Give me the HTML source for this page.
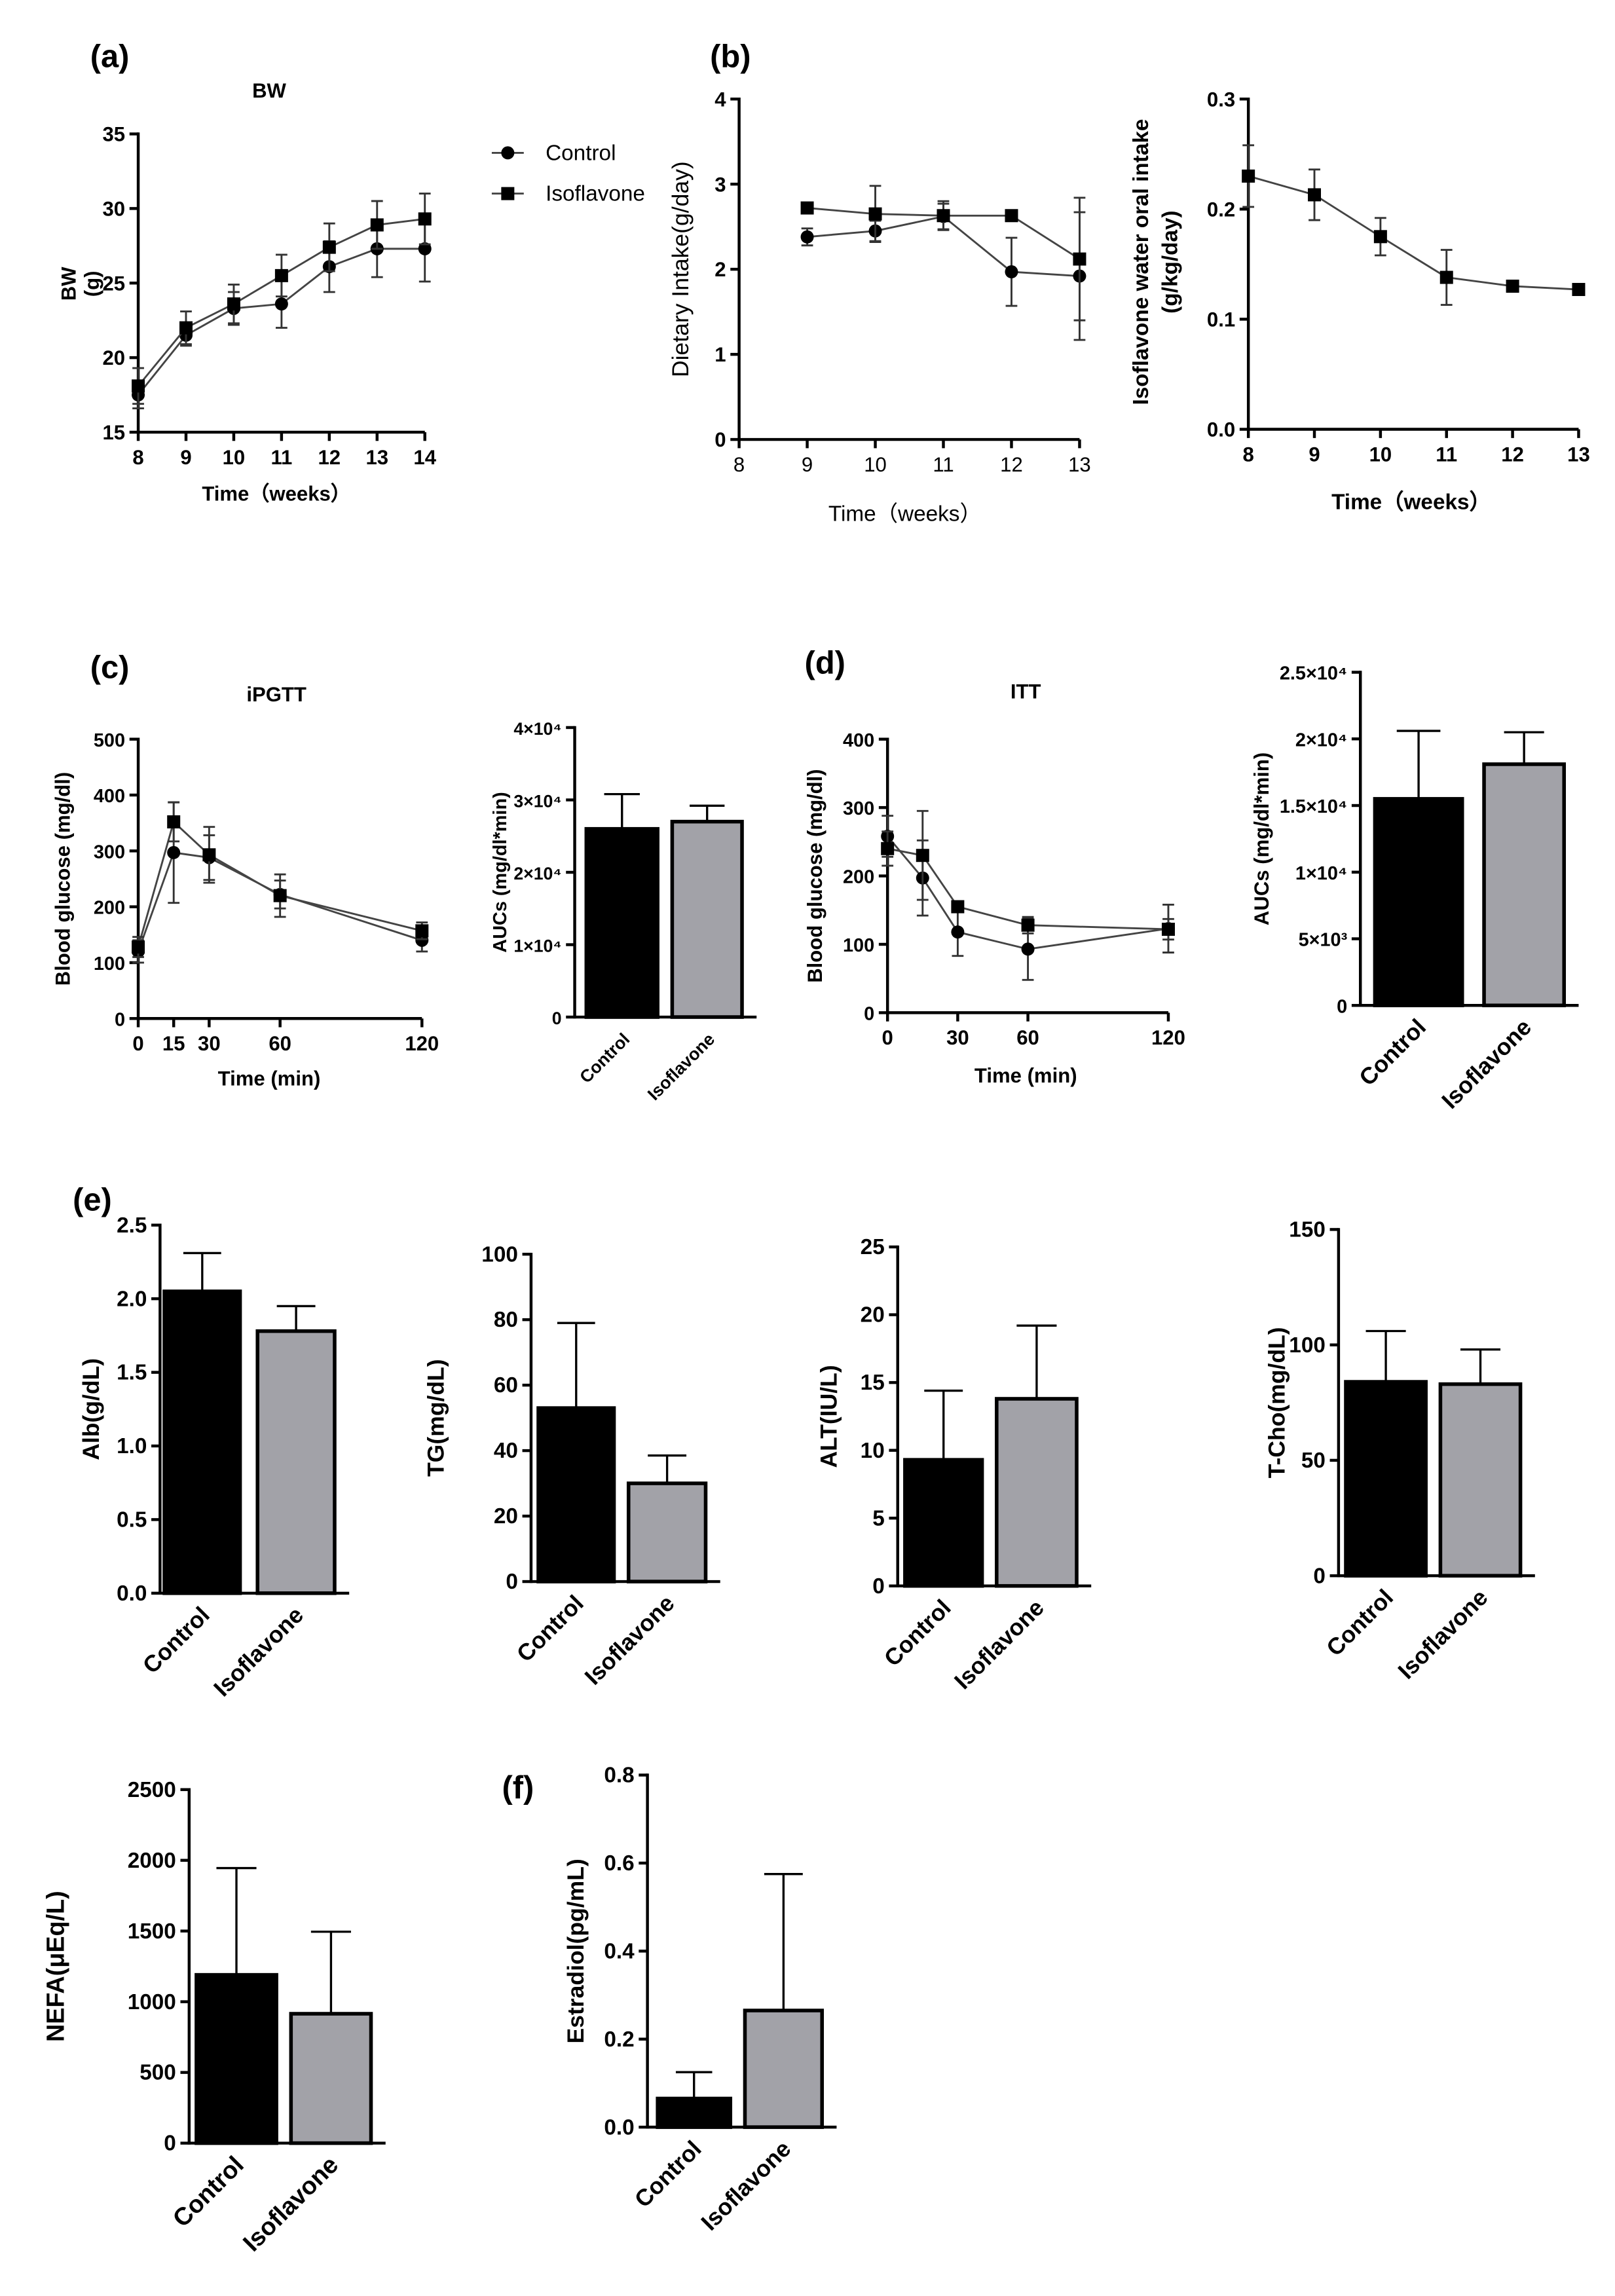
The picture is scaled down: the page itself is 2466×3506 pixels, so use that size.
<!DOCTYPE html>
<html><head><meta charset="utf-8"><style>
html,body{margin:0;padding:0;background:#fff}
svg{display:block}
text{font-family:"Liberation Sans",Arial,sans-serif}
</style></head><body>
<svg id="s" width="2466" height="3506" viewBox="0 0 1110 1578" xmlns="http://www.w3.org/2000/svg">
<rect width="1110" height="1578" fill="#fff"/>
<text x="62" y="46" font-size="22" font-weight="bold">(a)</text>
<text x="488" y="46" font-size="22" font-weight="bold">(b)</text>
<text x="62" y="466" font-size="22" font-weight="bold">(c)</text>
<text x="553" y="463" font-size="22" font-weight="bold">(d)</text>
<text x="50" y="832" font-size="22" font-weight="bold">(e)</text>
<text x="345" y="1236" font-size="22" font-weight="bold">(f)</text>
<text x="185" y="67" font-size="14" font-weight="bold" text-anchor="middle">BW</text>
<text x="190" y="482" font-size="14" font-weight="bold" text-anchor="middle">iPGTT</text>
<text x="705" y="480" font-size="14" font-weight="bold" text-anchor="middle">ITT</text>
<g id="g"></g>
</svg>
<script>
var G=document.getElementById('g'),NS='http://www.w3.org/2000/svg';
function el(t,a,txt){var e=document.createElementNS(NS,t);for(var k in a)e.setAttribute(k,a[k]);if(txt!==undefined)e.textContent=txt;G.appendChild(e);return e;}
function line(x1,y1,x2,y2,c,w){el('line',{x1:x1,y1:y1,x2:x2,y2:y2,stroke:c||'#000','stroke-width':w||2});}
function txt(x,y,s,o){o=o||{};var a={x:x,y:y,'font-size':o.fs||13,'text-anchor':o.a||'middle'};if(o.b!==false)a['font-weight']='bold';if(o.r!==undefined)a.transform='rotate('+o.r+' '+x+' '+y+')';el('text',a,s);}
function yaxis(ax,top,bot,vmax,vmin,ticks,labels,fs){line(ax,top-1,ax,bot+1);ticks.forEach(function(v,i){var y=bot-(v-vmin)/(vmax-vmin)*(bot-top);line(ax-6,y,ax,y);txt(ax-9,y+5,labels?labels[i]:String(v),{a:'end',fs:fs||13});});}
function bar(o){var Y=function(v){return o.bot-v/o.max*(o.bot-o.top)};
 yaxis(o.ax,o.top,o.bot,o.max,0,o.ticks,o.labels,o.fs);
 var xr=o.bars[1][1]+10;line(o.ax,o.bot,xr,o.bot);
 o.bars.forEach(function(b,i){var cx=(b[0]+b[1])/2;line(cx,Y(b[2]),cx,Y(b[3]),'#000',1.5);line(cx-(b[1]-b[0])/4,Y(b[3]),cx+(b[1]-b[0])/4,Y(b[3]),'#000',1.5);
  el('rect',{x:b[0],y:Y(b[2]),width:b[1]-b[0],height:o.bot-Y(b[2]),fill:i?'#a2a2a8':'#000',stroke:'#000','stroke-width':2.5});
  txt(cx+6,o.bot+16,i?'Isoflavone':'Control',{a:'end',fs:o.xfs||14,r:-45});});
 txt(o.ylx,(o.top+o.bot)/2,o.yl,{r:-90,fs:o.yfs||15});}
function lplot(o){var X=function(v){return o.x0+(v-o.xmin)/(o.xmax-o.xmin)*(o.x1-o.x0)},Y=function(v){return o.bot-(v-o.ymin)/(o.ymax-o.ymin)*(o.bot-o.top)};
 yaxis(o.x0,o.top,o.bot,o.ymax,o.ymin,o.yt,o.yl,o.fs);line(o.x0,o.bot,o.x1,o.bot);
 o.xt.forEach(function(v){line(X(v),o.bot,X(v),o.bot+6);txt(X(v),o.bot+22,String(v),{fs:o.fs||14,b:o.xb!==false});});
 o.series.forEach(function(s,si){var p=s.d.map(function(d){return X(d[0])+','+Y(d[1])}).join(' ');
  el('polyline',{points:p,fill:'none',stroke:'#444','stroke-width':1.3});
  s.d.forEach(function(d){if(d[2]){var x=X(d[0]);line(x,Y(d[1]-d[2]),x,Y(d[1]+d[2]),'#333',1.3);line(x-4,Y(d[1]+d[2]),x+4,Y(d[1]+d[2]),'#333',1.3);line(x-4,Y(d[1]-d[2]),x+4,Y(d[1]-d[2]),'#333',1.3);}
   if(s.m=='c')el('circle',{cx:X(d[0]),cy:Y(d[1]),r:4.5,fill:'#000'});else el('rect',{x:X(d[0])-4.5,y:Y(d[1])-4.5,width:9,height:9,fill:'#000'});});});}
// (a) BW
lplot({x0:95,x1:292,xmin:8,xmax:14,top:92,bot:297,ymin:15,ymax:35,yt:[15,20,25,30,35],xt:[8,9,10,11,12,13,14],fs:14,
 series:[{m:'c',d:[[8,17.5,.9],[9,21.5,.7],[10,23.3,1.1],[11,23.6,1.6],[12,26.1,1.7],[13,27.3,1.9],[14,27.3,2.2]]},
 {m:'s',d:[[8,18.1,1.2],[9,22,1.1],[10,23.6,1.3],[11,25.5,1.4],[12,27.4,1.6],[13,28.9,1.6],[14,29.3,1.7]]}]});
txt(190,344,'Time（weeks）',{fs:14});
txt(52,195,'BW',{r:-90,fs:14});txt(68,195,'(g)',{r:-90,fs:14});
line(338,105,360,105,'#444',1.3);el('circle',{cx:349,cy:105,r:4.5,fill:'#000'});txt(375,110,'Control',{a:'start',fs:15,b:false});
line(338,133,360,133,'#444',1.3);el('rect',{x:344.5,y:128.5,width:9,height:9,fill:'#000'});txt(375,138,'Isoflavone',{a:'start',fs:15,b:false});
// (b) dietary
lplot({x0:508,x1:742,xmin:8,xmax:13,top:68,bot:302,ymin:0,ymax:4,yt:[0,1,2,3,4],xt:[8,9,10,11,12,13],fs:14,xb:false,
 series:[{m:'c',d:[[9,2.38,.1],[10,2.45,.12],[11,2.62,.15],[12,1.97,.4],[13,1.92,.75]]},
 {m:'s',d:[[9,2.72,.03],[10,2.65,.33],[11,2.63,.17],[12,2.63,.03],[13,2.12,.72]]}]});
txt(622,358,'Time（weeks）',{fs:15,b:false});
txt(473,185,'Dietary Intake(g/day)',{r:-90,fs:16,b:false});
// (b) iso water
lplot({x0:858,x1:1085,xmin:8,xmax:13,top:68,bot:295,ymin:0,ymax:0.3,yt:[0,.1,.2,.3],yl:['0.0','0.1','0.2','0.3'],xt:[8,9,10,11,12,13],fs:14,
 series:[{m:'s',d:[[8,.23,.028],[9,.213,.023],[10,.175,.017],[11,.138,.025],[12,.13,.005],[13,.127,.003]]}]});
txt(970,350,'Time（weeks）',{fs:15});
txt(789,180,'Isoflavone water oral intake',{r:-90,fs:15});txt(809,180,'(g/kg/day)',{r:-90,fs:15});
// (c) iPGTT
lplot({x0:95,x1:290,xmin:0,xmax:120,top:508,bot:700,ymin:0,ymax:500,yt:[0,100,200,300,400,500],xt:[0,15,30,60,120],
 series:[{m:'c',d:[[0,120,20],[15,297,90],[30,288,40],[60,222,25],[120,140,20]]},
 {m:'s',d:[[0,128,18],[15,352,35],[30,293,50],[60,220,38],[120,157,15]]}]});
txt(185,746,'Time (min)',{fs:14});txt(48,604,'Blood glucose (mg/dl)',{r:-90,fs:14});
bar({ax:395,top:500,bot:699,max:40000,ticks:[0,10000,20000,30000,40000],labels:['0','1×10⁴','2×10⁴','3×10⁴','4×10⁴'],fs:12,
 bars:[[403,452,26000,30800],[462,510,27000,29200]],yl:'AUCs (mg/dl*min)',ylx:348,yfs:13,xfs:12});
// (d) ITT
lplot({x0:610,x1:803,xmin:0,xmax:120,top:508,bot:696,ymin:0,ymax:400,yt:[0,100,200,300,400],xt:[0,30,60,120],
 series:[{m:'c',d:[[0,258,30],[15,197,55],[30,118,35],[60,93,45],[120,123,35]]},
 {m:'s',d:[[0,240,25],[15,230,65],[30,155,0],[60,128,12],[120,122,15]]}]});
txt(705,744,'Time (min)',{fs:14});txt(565,602,'Blood glucose (mg/dl)',{r:-90,fs:14});
bar({ax:935,top:462,bot:691,max:25000,ticks:[0,5000,10000,15000,20000,25000],labels:['0','5×10³','1×10⁴','1.5×10⁴','2×10⁴','2.5×10⁴'],fs:13,
 bars:[[945,1005,15500,20600],[1020,1075,18100,20500]],yl:'AUCs (mg/dl*min)',ylx:872,yfs:14,xfs:16});
// (e)
bar({ax:110,top:842,bot:1095,max:2.5,ticks:[0,.5,1,1.5,2,2.5],labels:['0.0','0.5','1.0','1.5','2.0','2.5'],fs:15,
 bars:[[113,165,2.05,2.31],[177,230,1.78,1.95]],yl:'Alb(g/dL)',ylx:68,yfs:16,xfs:16});
bar({ax:365,top:862,bot:1087,max:100,ticks:[0,20,40,60,80,100],fs:15,
 bars:[[370,422,53,79],[432,485,30,38.5]],yl:'TG(mg/dL)',ylx:305,yfs:16,xfs:16});
bar({ax:617,top:857,bot:1090,max:25,ticks:[0,5,10,15,20,25],fs:15,
 bars:[[622,675,9.3,14.4],[685,740,13.8,19.2]],yl:'ALT(IU/L)',ylx:575,yfs:16,xfs:16});
bar({ax:920,top:845,bot:1083,max:150,ticks:[0,50,100,150],fs:15,
 bars:[[925,980,84,106],[990,1045,83,98]],yl:'T-Cho(mg/dL)',ylx:883,yfs:16,xfs:16});
bar({ax:130,top:1230,bot:1473,max:2500,ticks:[0,500,1000,1500,2000,2500],fs:15,
 bars:[[135,190,1190,1945],[200,255,915,1495]],yl:'NEFA(μEq/L)',ylx:44,yfs:17,xfs:17});
bar({ax:445,top:1220,bot:1462,max:0.8,ticks:[0,.2,.4,.6,.8],labels:['0.0','0.2','0.4','0.6','0.8'],fs:15,
 bars:[[452,502,.065,.125],[512,565,.265,.575]],yl:'Estradiol(pg/mL)',ylx:401,yfs:16,xfs:16});
</script>
</body></html>
